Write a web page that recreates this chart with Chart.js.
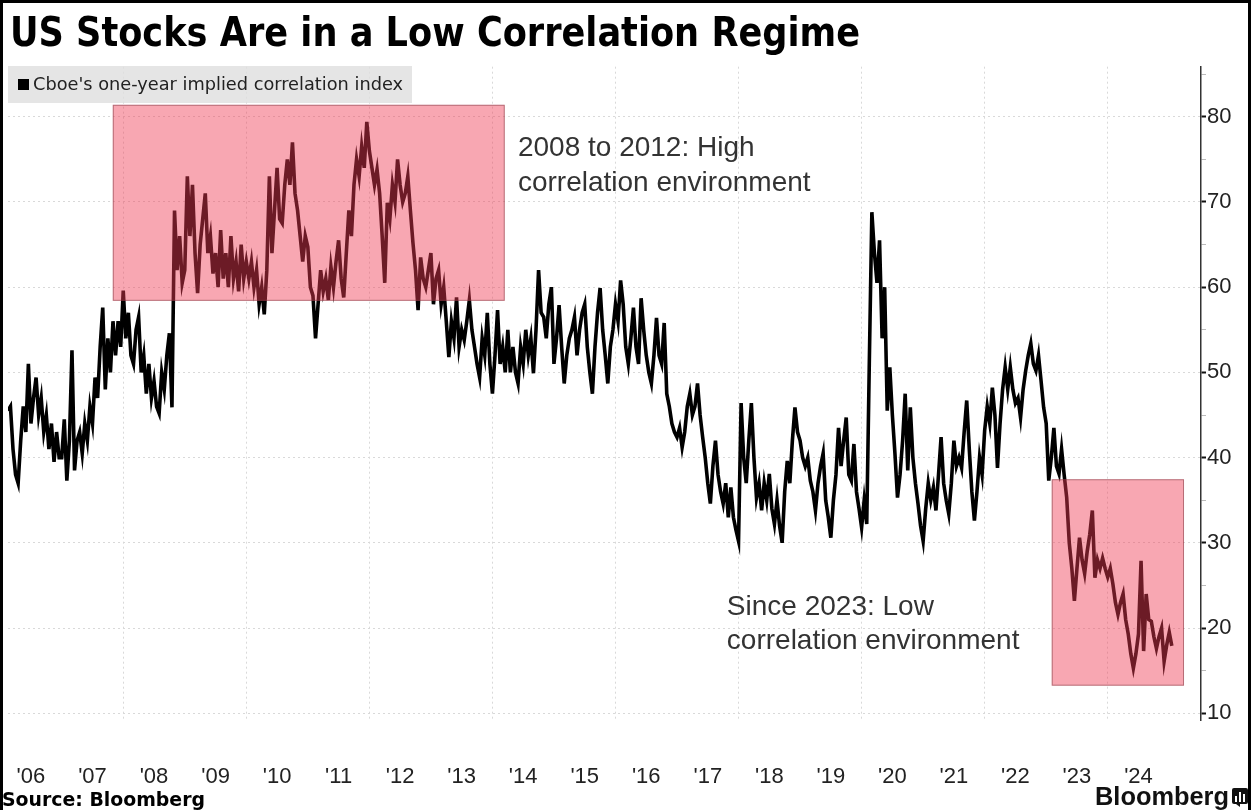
<!DOCTYPE html>
<html>
<head>
<meta charset="utf-8">
<script src="https://cdn.jsdelivr.net/npm/chart.js@4.4.1/dist/chart.umd.min.js"></script>
<style>
  body { margin: 0; background: #fff; }
  #wrap { position: relative; width: 1251px; height: 810px; overflow: hidden; background: #fff; }
  #c { position: absolute; left: 0; top: 0; }
  #title { position: absolute; left: 10px; top: 12px; font: bold 41px "DejaVu Sans Condensed", "DejaVu Sans", sans-serif; line-height: 41px; white-space: nowrap; color: #000; transform-origin: left top; }
  #legend { position: absolute; left: 8px; top: 66px; width: 404px; height: 37px; background: rgba(222,222,222,0.8); }
  #legend .sq { position: absolute; left: 10px; top: 13px; width: 11px; height: 11px; background: #000; }
  #legtxt { position: absolute; left: 25px; top: 8px; font: 17px "DejaVu Sans Condensed", sans-serif; line-height: 20px; white-space: nowrap; color: #222; transform-origin: left top; }
  #source { position: absolute; left: 2px; top: 788px; font: bold 19px "DejaVu Sans Condensed", sans-serif; line-height: 22px; white-space: nowrap; color: #000; transform-origin: left top; }
  #logotxt { position: absolute; left: 1095px; top: 782px; font: 25px "Liberation Sans", sans-serif; font-weight: 600; line-height: 28px; white-space: nowrap; color: #111; transform-origin: left top; }
  #icon { position: absolute; left: 1232px; top: 788px; }
  #frame { position: absolute; left: 0; top: 0; width: 1251px; height: 810px; box-sizing: border-box; border-left: 3px solid #000; border-top: 3px solid #000; border-right: 3px solid #000; pointer-events: none; }
</style>
</head>
<body>
<div id="wrap">
  <canvas id="c" width="1251" height="810"></canvas>
  <div id="title">US Stocks Are in a Low Correlation Regime</div>
  <div id="legend"><span class="sq"></span><span id="legtxt">Cboe's one-year implied correlation index</span></div>
  <div id="source">Source: Bloomberg</div>
  <div id="logotxt">Bloomberg</div>
  <svg id="icon" width="16" height="19" viewBox="0 0 16 19">
    <rect x="0" y="0" width="16" height="16" rx="2" fill="#111"/>
    <polygon points="4,16 8,19 8,16" fill="#111"/>
    <rect x="3" y="8" width="2" height="6" fill="#fff"/>
    <rect x="7" y="4" width="2" height="10" fill="#fff"/>
    <rect x="11" y="6" width="2" height="8" fill="#fff"/>
  </svg>
  <div id="frame"></div>
</div>
<script>
// Cboe one-year implied correlation index
// two readings per month (index k -> year + k/24)
var years = [2006, 2007, 2008, 2009, 2010, 2011, 2012, 2013, 2014, 2015,
             2016, 2017, 2018, 2019, 2020, 2021, 2022, 2023, 2024, 2025];

var corr2006 = [null, null, null, 45.5, 46, 41, 38, 37, 42, 46, 43, 51, 44, 47, 49.4, 45, 47, 43, 45, 41, 44, 39.5, 43, 40];
var corr2007 = [40, 44.5, 37.3, 42, 52.6, 38.5, 42, 43, 40.5, 44, 42, 46, 44, 49.4, 47, 53, 57.6, 48, 54, 50, 56, 52, 56, 53];
var corr2008 = [59.6, 54, 57, 52, 51, 55, 56.5, 50, 52, 47.5, 51, 47, 49, 46, 45.2, 50, 48, 52, 54.6, 45.9, 69, 62, 66, 60.5];
var corr2009 = [62, 73, 66, 72, 64, 59.3, 65, 68, 71, 64, 66, 61.6, 64, 60, 66.7, 61, 64, 60, 66, 61, 63, 59.5, 65, 61];
var corr2010 = [63, 61, 63, 60, 62, 58, 60, 56.8, 62, 73, 64, 69, 74, 68, 67.5, 72, 75, 72, 77, 71, 69, 66, 63, 66];
var corr2011 = [64.7, 60, 59, 54, 58, 62, 59.5, 61, 58.5, 62.4, 60, 63, 65.5, 61, 58.8, 64, 69, 66, 72, 75, 73, 76.5, 74, 79.4];
var corr2012 = [76, 74, 72, 73.8, 71, 66, 60.5, 69.9, 68, 72, 70, 75, 72, 70, 71, 73, 69, 65.2, 62, 57.3, 63.5, 61, 60, 62];
var corr2013 = [64, 58, 61, 62, 58, 60, 56, 51.8, 56, 54, 58.8, 53, 55, 53.8, 56, 58.5, 55, 53, 51, 49.4, 54, 52, 57, 51];
var corr2014 = [47.5, 52, 57.3, 51, 53, 50, 55, 50, 53, 50, 48.7, 53, 51, 55, 52, 54, 49.9, 55, 62, 57, 56.5, 54, 58, 60];
var corr2015 = [51, 54, 57.9, 53, 48.7, 52, 54, 55, 56.5, 52, 55, 57, 58, 53, 50, 47.5, 53, 57, 59.9, 55, 52, 48.7, 53, 55];
var corr2016 = [58, 56, 60.8, 58, 53, 51, 54, 57.6, 53, 51, 58.7, 55, 52, 50, 48.7, 52, 56.4, 52, 51, 55.8, 47.5, 46, 44, 43];
var corr2017 = [42.4, 43.5, 41.2, 43, 46, 47.5, 45, 46, 48.7, 45, 42.4, 40, 37, 34.6, 39, 42, 38, 36, 34.6, 37, 33, 36.5, 33, 31.5];
var corr2018 = [30.2, 46.4, 40, 37, 42, 46.4, 40, 35.3, 37, 33.8, 37, 35, 38.1, 34, 32.2, 35, 32, 30, 36, 39.6, 37, 42, 45.9, 43];
var corr2019 = [42, 40, 39, 40, 37.3, 36, 33.8, 37, 39, 40.5, 35, 33, 30.6, 35, 38, 43.5, 39, 42, 44.7, 38, 37.3, 41.6, 36, 34];
var corr2020 = [31.8, 35, 32.2, 51, 68.8, 64, 60.5, 65.5, 54, 60, 45.5, 50.6, 45, 40.5, 35.3, 38, 42, 47.5, 38.5, 45.9, 40, 37, 34.6, 32];
var corr2021 = [30.2, 34, 37, 35, 36.5, 33.8, 38, 42.4, 37, 35, 33.4, 37, 42, 39, 40, 38.8, 43, 46.7, 41, 36, 32.6, 36, 40, 38];
var corr2022 = [43.2, 46, 44, 48.2, 45, 38.8, 44, 48, 50.6, 48, 50.6, 48, 46.4, 47, 44.7, 48, 50.2, 52, 53.4, 51, 50.2, 52, 49, 45.9];
var corr2023 = [44, 37.3, 40, 43.5, 39, 38.1, 41, 38, 35.3, 30, 27, 23.2, 27, 30.6, 28, 26.4, 29, 31, 33.8, 25.9, 28, 27, 28.2, 27];
var corr2024 = [26, 27, 25.2, 23, 21.6, 23, 24, 21, 19.3, 17, 15.3, 17, 19.3, 27.9, 17.3, 24, 21, 20.8, 19, 17.6, 19, 20, 16.1, 18];
var corr2025 = [19.5, 17.9];

var series = [corr2006, corr2007, corr2008, corr2009, corr2010, corr2011, corr2012, corr2013, corr2014, corr2015,
              corr2016, corr2017, corr2018, corr2019, corr2020, corr2021, corr2022, corr2023, corr2024, corr2025];

// axis labels ('06 .. '24) sit mid-year, grid lines every other January
var labelYears = [2006, 2007, 2008, 2009, 2010, 2011, 2012, 2013, 2014, 2015, 2016, 2017, 2018, 2019, 2020, 2021, 2022, 2023, 2024];
var gridYears = [2008, 2010, 2012, 2014, 2016, 2018, 2020, 2022, 2024];
var yTicks = [10, 20, 30, 40, 50, 60, 70, 80];

// shaded regimes: [from year, to year, low value, high value]
var highRegime = [2007.83, 2014.2, 58.4, 81.4];
var lowRegime = [2023.09, 2025.24, 13.24, 37.46];
var highNote = ['2008 to 2012: High', 'correlation environment'];
var lowNote = ['Since 2023: Low', 'correlation environment'];

var points = [];
years.forEach(function (yr, i) {
    series[i].forEach(function (v, k) {
        points.push({ x: yr + k / 24, y: v });
    });
});

var notes = [
    { x: 2014.415, y: [76.33, 72.2], lines: highNote },
    { x: 2017.81, y: [22.47, 18.5], lines: lowNote }
];

var regimePlugin = {
    id: 'regimes',
    afterDatasetsDraw: function (chart) {
        var ctx = chart.ctx, x = chart.scales.x, y = chart.scales.y;
        [highRegime, lowRegime].forEach(function (b) {
            var l = x.getPixelForValue(b[0]), r = x.getPixelForValue(b[1]);
            var t = y.getPixelForValue(b[3]), bt = y.getPixelForValue(b[2]);
            ctx.save();
            ctx.fillStyle = 'rgba(240,60,85,0.45)';
            ctx.fillRect(l, t, r - l, bt - t);
            ctx.strokeStyle = 'rgba(130,60,70,0.55)';
            ctx.lineWidth = 1;
            ctx.strokeRect(l + 0.5, t + 0.5, r - l - 1, bt - t - 1);
            ctx.restore();
        });
        notes.forEach(function (n) {
            ctx.save();
            ctx.font = '28px "Liberation Sans", sans-serif';
            ctx.fillStyle = '#333';
            ctx.textBaseline = 'middle';
            n.lines.forEach(function (s, j) {
                ctx.fillText(s, x.getPixelForValue(n.x), y.getPixelForValue(n.y[j]));
            });
            ctx.restore();
        });
    }
};

function isGridYear(v) {
    return gridYears.indexOf(v) >= 0;
}

var ctx = document.getElementById('c').getContext('2d');
var chart = new Chart(ctx, {
    type: 'line',
    data: {
        datasets: [{
            label: "Cboe's one-year implied correlation index",
            data: points,
            borderColor: '#000',
            borderWidth: 3.6,
            borderJoinStyle: 'miter',
            pointRadius: 0,
            tension: 0,
            fill: false
        }]
    },
    options: {
        responsive: false,
        animation: false,
        devicePixelRatio: 1,
        layout: { autoPadding: false, padding: { left: 8, top: 66.7, right: 0, bottom: 0 } },
        plugins: { legend: { display: false }, tooltip: { enabled: false } },
        scales: {
            x: {
                type: 'linear',
                min: 2006.127,
                max: 2025.516,
                afterBuildTicks: function (s) {
                    var t = gridYears.map(function (g) { return { value: g }; });
                    labelYears.forEach(function (yr) { t.push({ value: yr + 0.5 }); });
                    t.sort(function (a, b) { return a.value - b.value; });
                    s.ticks = t;
                },
                afterFit: function (s) {
                    s.height = 89.9;
                    s.paddingLeft = 0;
                    s.paddingRight = 0;
                },
                border: { display: false, dash: [2, 3] },
                grid: {
                    drawTicks: false,
                    lineWidth: 1,
                    color: function (c) { return c.tick && isGridYear(c.tick.value) ? '#d9d9d9' : 'rgba(0,0,0,0)'; }
                },
                ticks: {
                    autoSkip: false,
                    maxRotation: 0,
                    padding: 44,
                    color: '#222',
                    font: { family: 'Liberation Sans', size: 22 },
                    callback: function (v) {
                        if (isGridYear(v)) return '';
                        return "'" + String(Math.floor(v)).slice(2);
                    }
                }
            },
            y: {
                position: 'right',
                min: 9.2,
                max: 85.87,
                afterBuildTicks: function (s) {
                    var t = [];
                    yTicks.forEach(function (v) { t.push({ value: v }); t.push({ value: v + 5 }); });
                    s.ticks = t;
                },
                afterFit: function (s) {
                    s.width = 50;
                    s.paddingTop = 0;
                    s.paddingBottom = 0;
                },
                border: { display: true, color: '#333', width: 1.5, dash: [2, 3] },
                grid: {
                    lineWidth: 1,
                    tickLength: 5,
                    color: function (c) { return c.tick && yTicks.indexOf(c.tick.value) >= 0 ? '#d9d9d9' : 'rgba(0,0,0,0)'; },
                    tickColor: function (c) { return c.tick && yTicks.indexOf(c.tick.value) >= 0 ? '#111' : '#bbb'; },
                    tickWidth: function (c) { return c.tick && yTicks.indexOf(c.tick.value) >= 0 ? 2 : 1; }
                },
                ticks: {
                    padding: 1,
                    color: '#222',
                    font: { family: 'Liberation Sans', size: 22 },
                    callback: function (v) { return yTicks.indexOf(v) >= 0 ? String(v) : ''; }
                }
            }
        }
    },
    plugins: [regimePlugin]
});

// squeeze header/footer text to the widths seen on the original
function fitWidth(id, w) {
    var el = document.getElementById(id);
    var r = el.getBoundingClientRect().width;
    el.style.transform = 'scaleX(' + (w / r) + ')';
}
fitWidth('title', 850);
fitWidth('legtxt', 370);
fitWidth('source', 203);
fitWidth('logotxt', 134);
</script>
</body>
</html>
